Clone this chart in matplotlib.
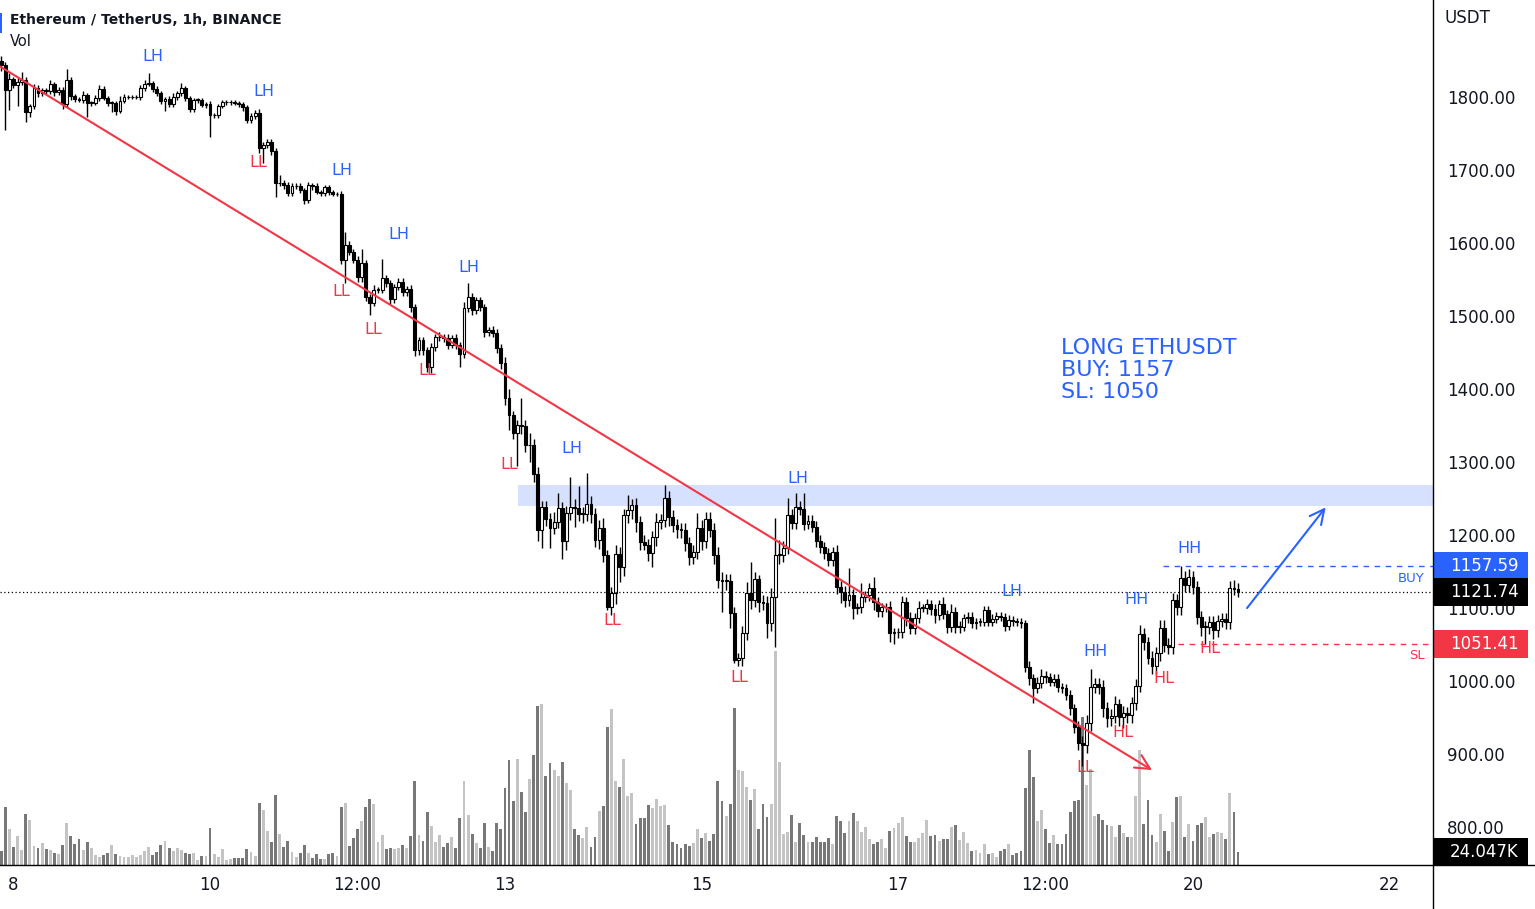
import numpy as np
import matplotlib
matplotlib.use('Agg')
import matplotlib.pyplot as plt
import matplotlib.transforms as mtransforms
from matplotlib.patches import Rectangle
from matplotlib.lines import Line2D

# ETH/USDT, 1h свечи, с 7 июня 21:00 по 20 июня 11:00 (UTC)
first_open = 1850
closes = [
    1844, 1810, 1825, 1816, 1821, 1823, 1780, 1788, 1812, 1805, 1810, 1808, 1818, 1807, 1810, 1790, 1823, 1801, 1797, 1796, 1803, 1792, 1792, 1799,
    1811, 1799, 1792, 1792, 1781, 1795, 1800, 1800, 1800, 1800, 1812, 1818, 1819, 1811, 1805, 1795, 1797, 1790, 1800, 1805, 1812, 1799, 1784, 1796,
    1796, 1789, 1790, 1775, 1775, 1788, 1793, 1793, 1793, 1792, 1790, 1786, 1768, 1774, 1778, 1730, 1734, 1738, 1726, 1682, 1682, 1679, 1668, 1678,
    1678, 1673, 1659, 1679, 1678, 1670, 1668, 1677, 1670, 1667, 1667, 1577, 1597, 1588, 1577, 1553, 1573, 1526, 1518, 1536, 1536, 1552, 1545, 1523,
    1540, 1547, 1533, 1537, 1512, 1453, 1467, 1453, 1430, 1457, 1471, 1471, 1470, 1460, 1470, 1460, 1448, 1511, 1526, 1508, 1522, 1512, 1478, 1481,
    1477, 1456, 1436, 1388, 1364, 1340, 1351, 1349, 1323, 1323, 1283, 1207, 1238, 1222, 1210, 1218, 1237, 1192, 1230, 1238, 1237, 1229, 1229, 1243,
    1229, 1193, 1210, 1173, 1101, 1121, 1174, 1156, 1227, 1234, 1241, 1218, 1190, 1186, 1175, 1197, 1218, 1220, 1251, 1225, 1214, 1208, 1207, 1189,
    1170, 1177, 1210, 1192, 1222, 1207, 1173, 1138, 1137, 1137, 1093, 1029, 1031, 1066, 1121, 1111, 1140, 1108, 1107, 1079, 1115, 1173, 1173, 1182,
    1227, 1216, 1238, 1236, 1215, 1219, 1211, 1192, 1184, 1175, 1166, 1177, 1129, 1122, 1111, 1118, 1100, 1101, 1115, 1118, 1127, 1108, 1096, 1101,
    1101, 1066, 1067, 1067, 1108, 1086, 1073, 1086, 1100, 1100, 1105, 1099, 1090, 1105, 1092, 1074, 1095, 1074, 1074, 1086, 1088, 1079, 1081, 1081,
    1097, 1081, 1085, 1089, 1088, 1075, 1084, 1082, 1081, 1079, 1019, 1004, 990, 997, 1007, 1005, 999, 1003, 992, 990, 981, 963, 937, 915,
    912, 942, 992, 996, 992, 963, 949, 952, 968, 951, 956, 953, 970, 993, 1064, 1053, 1031, 1020, 1038, 1073, 1049, 1047, 1111, 1101,
    1141, 1132, 1143, 1129, 1088, 1074, 1074, 1081, 1070, 1082, 1085, 1081, 1127, 1126, 1121.74,
]
# верхние и нижние тени (от тела свечи)
wick_up = [
    6, 4, 8, 3, 5, 11, 4, 3, 6, 4, 3, 3, 5, 3, 4, 4, 15, 5, 3, 3, 6, 3, 3, 4,
    5, 4, 3, 3, 3, 6, 4, 3, 3, 3, 5, 5, 14, 3, 4, 3, 3, 4, 5, 4, 7, 3, 3, 3,
    3, 3, 3, 4, 3, 3, 3, 3, 3, 3, 3, 3, 3, 4, 4, 5, 4, 5, 4, 4, 11, 4, 5, 4,
    4, 4, 3, 4, 3, 4, 3, 3, 3, 3, 3, 5, 18, 6, 4, 5, 19, 4, 4, 6, 4, 26, 4, 4,
    4, 5, 5, 4, 5, 5, 4, 5, 4, 6, 5, 7, 4, 5, 4, 5, 5, 8, 19, 6, 4, 4, 5, 4,
    5, 5, 6, 8, 12, 6, 7, 37, 8, 17, 8, 10, 9, 8, 8, 14, 21, 8, 10, 41, 12, 30, 10, 42,
    10, 8, 10, 13, 6, 8, 12, 10, 9, 21, 8, 10, 8, 10, 9, 8, 12, 9, 17, 10, 9, 8, 9, 10,
    8, 9, 20, 10, 10, 9, 10, 10, 12, 10, 10, 8, 8, 10, 15, 42, 10, 5, 10, 10, 12, 50, 20, 10,
    24, 9, 19, 8, 21, 8, 8, 8, 8, 7, 7, 7, 10, 8, 8, 37, 8, 6, 19, 6, 8, 15, 7, 6,
    6, 8, 6, 6, 8, 7, 8, 7, 10, 6, 8, 6, 7, 6, 10, 6, 10, 6, 8, 6, 6, 7, 6, 6,
    6, 6, 7, 6, 5, 5, 6, 5, 5, 5, 5, 8, 6, 8, 10, 7, 6, 6, 7, 6, 6, 7, 6, 8,
    10, 12, 25, 8, 8, 10, 8, 10, 12, 8, 10, 8, 8, 10, 13, 8, 8, 10, 8, 10, 10, 10, 10, 8,
    16, 10, 10, 8, 8, 8, 8, 8, 8, 8, 8, 8, 10, 12, 8,
]
wick_dn = [
    8, 55, 28, 4, 28, 5, 14, 7, 4, 5, 3, 4, 4, 5, 4, 6, 4, 5, 4, 3, 4, 19, 4, 3,
    4, 3, 4, 12, 5, 3, 3, 3, 3, 3, 4, 3, 3, 4, 4, 5, 14, 4, 3, 4, 3, 4, 5, 4,
    4, 3, 4, 30, 3, 3, 3, 4, 4, 3, 4, 5, 3, 4, 4, 7, 20, 4, 5, 19, 4, 5, 4, 4,
    4, 4, 6, 4, 5, 3, 4, 3, 4, 3, 3, 6, 32, 5, 4, 6, 6, 6, 17, 4, 4, 4, 5, 6,
    5, 4, 5, 5, 6, 8, 6, 6, 6, 8, 5, 5, 5, 5, 4, 5, 18, 6, 5, 6, 5, 5, 6, 5,
    6, 6, 8, 10, 20, 8, 45, 10, 9, 23, 10, 15, 25, 10, 28, 9, 8, 25, 12, 10, 26, 10, 12, 10,
    12, 10, 12, 10, 3, 10, 15, 20, 12, 10, 12, 14, 10, 6, 10, 19, 12, 10, 9, 12, 10, 12, 11, 11,
    11, 10, 10, 12, 10, 10, 12, 10, 42, 12, 20, 4, 9, 10, 10, 12, 10, 13, 10, 20, 10, 68, 12, 10,
    8, 8, 8, 9, 8, 7, 7, 8, 8, 8, 8, 8, 10, 15, 9, 8, 15, 8, 8, 7, 8, 10, 8, 8,
    6, 13, 15, 8, 8, 10, 8, 8, 7, 6, 8, 8, 10, 7, 7, 8, 7, 8, 8, 6, 7, 6, 8, 6,
    6, 6, 6, 6, 6, 6, 5, 6, 5, 6, 6, 10, 20, 6, 7, 7, 6, 6, 7, 6, 7, 9, 8, 10,
    28, 10, 10, 9, 10, 12, 12, 10, 10, 12, 15, 10, 10, 10, 8, 10, 8, 10, 12, 10, 9, 10, 10, 10,
    10, 10, 10, 10, 10, 12, 23, 10, 12, 10, 8, 10, 10, 8, 6,
]
# объём, тыс. ETH
volume_k = [
    26, 107, 67, 34, 54, 28, 95, 83, 36, 32, 41, 30, 28, 22, 20, 37, 78, 54, 39, 48, 28, 43, 32, 19,
    15, 19, 22, 37, 20, 17, 15, 14, 19, 14, 19, 26, 33, 19, 24, 37, 44, 31, 26, 31, 28, 22, 20, 22,
    9, 17, 17, 68, 20, 15, 30, 9, 11, 13, 13, 13, 30, 24, 17, 115, 102, 63, 43, 130, 57, 33, 44, 24,
    15, 22, 37, 22, 13, 20, 11, 11, 20, 22, 17, 107, 115, 35, 50, 67, 81, 107, 122, 113, 43, 56, 30, 31,
    30, 31, 37, 31, 54, 155, 56, 44, 98, 72, 43, 56, 33, 41, 52, 31, 87, 155, 93, 57, 41, 31, 78, 33,
    26, 78, 67, 142, 194, 118, 196, 135, 98, 159, 204, 294, 298, 165, 189, 176, 165, 191, 152, 139, 67, 56, 50, 70,
    33, 52, 100, 109, 255, 289, 155, 144, 196, 128, 133, 76, 87, 87, 111, 105, 122, 109, 111, 74, 43, 39, 31, 39,
    35, 41, 67, 50, 59, 44, 57, 155, 118, 91, 113, 290, 176, 174, 144, 120, 141, 67, 113, 89, 113, 396, 191, 57,
    61, 93, 43, 78, 56, 43, 43, 52, 43, 43, 50, 39, 91, 81, 59, 81, 96, 81, 61, 70, 48, 39, 43, 48,
    31, 63, 68, 78, 89, 54, 43, 43, 50, 59, 83, 54, 56, 44, 48, 48, 70, 74, 46, 61, 41, 26, 28, 22,
    39, 20, 22, 15, 26, 30, 39, 19, 22, 26, 142, 213, 163, 81, 102, 67, 41, 56, 39, 39, 57, 98, 118, 120,
    274, 148, 178, 91, 94, 83, 74, 72, 52, 74, 59, 52, 52, 128, 213, 76, 120, 56, 43, 94, 63, 26, 80, 126,
    128, 52, 76, 44, 74, 78, 89, 52, 57, 61, 59, 48, 133, 98, 24.047,
]

tick_pos = [3, 51, 87, 123, 171, 219, 255, 291, 339]
tick_txt = ['8', '10', '12:00', '13', '15', '17', '12:00', '20', '22']
price_ticks = [800, 900, 1000, 1100, 1200, 1300, 1400, 1500, 1600, 1700, 1800]

# метки структуры рынка: (текст, свеча, цена)
swings = [
    ('LH', 37.1, 1855), ('LH', 64.2, 1808), ('LL', 62.7, 1710), ('LH', 83.2, 1700),
    ('LH', 97.1, 1612), ('LL', 83.0, 1534), ('LL', 90.8, 1481), ('LH', 114.2, 1566),
    ('LL', 104.0, 1426), ('LL', 124.0, 1296), ('LH', 139.4, 1318), ('LL', 149.1, 1083),
    ('LH', 194.5, 1277), ('LL', 180.1, 1005), ('LH', 246.8, 1122), ('HH', 267.3, 1040),
    ('HH', 277.3, 1112), ('HH', 290.2, 1182), ('LL', 264.6, 881), ('HL', 273.9, 929),
    ('HL', 283.9, 1003), ('HL', 295.1, 1044),
]
buy_price = 1157.59
sl_price = 1051.41
last_price = 1121.74
zone = (1240, 1268)

BLUE = '#2962ff'
RED = '#f23645'
INK = '#131722'

W, H = 1535, 909
fig = plt.figure(figsize=(W / 100, H / 100), dpi=100)
pos = [0, 44 / H, 1433 / W, 865 / H]
axv = fig.add_axes(pos)
ax = fig.add_axes(pos)
ax.patch.set_visible(False)

c = np.array(closes, dtype=float)
o = np.array([first_open] + closes[:-1], dtype=float)
hi = np.maximum(o, c) + np.array(wick_up)
lo = np.minimum(o, c) - np.array(wick_dn)
x = np.arange(len(c))
up = c >= o

# объём
axv.bar(x, volume_k, width=0.7, color=np.where(up, '#c4c4c4', '#787878'), linewidth=0)
axv.set_ylim(0, 865 * 1.85)

# свечи
ax.vlines(x, lo, hi, color='black', lw=1, zorder=2)
body = np.maximum(np.abs(c - o), 0.8)
ax.bar(x, body, bottom=np.minimum(o, c), width=0.7, color=np.where(up, 'white', 'black'),
       edgecolor='black', linewidth=0.8, zorder=3)

xlim = (-0.29, 349.6)
ax.set_xlim(*xlim)
axv.set_xlim(*xlim)
ax.set_ylim(748, 1933)

# зона сопротивления
ax.axhspan(zone[0], zone[1], xmin=518 / 1433, xmax=1, color=BLUE, alpha=0.19, lw=0, zorder=1)

# линии BUY / SL / последняя цена
ax.hlines(buy_price, 283.6, xlim[1], colors=BLUE, lw=1, linestyles=(0, (4, 4)), zorder=4)
ax.hlines(sl_price, 287.3, xlim[1], colors=RED, lw=1, linestyles=(0, (4, 4)), zorder=4)
ax.axhline(last_price, color='black', lw=0.9, ls=(0, (1, 2)), zorder=4)
ax.text(347.6, 1141, 'BUY', color=BLUE, fontsize=9.5, ha='right', va='center')
ax.text(347.6, 1035.5, 'SL', color=RED, fontsize=9.5, ha='right', va='center')

# трендовая линия и стрелка
ax.annotate('', xy=(281, 878), xytext=(-0.3, 1842), annotation_clip=False,
            arrowprops=dict(arrowstyle='->', color=RED, lw=1.5, mutation_scale=26, shrinkA=0, shrinkB=0),
            zorder=5)
ax.annotate('', xy=(323.4, 1238), xytext=(304.2, 1100),
            arrowprops=dict(arrowstyle='->', color=BLUE, lw=1.5, mutation_scale=26, shrinkA=0, shrinkB=0),
            zorder=5)

for s, sx, sy in swings:
    col = BLUE if s in ('LH', 'HH') else RED
    ax.text(sx, sy, s, color=col, fontsize=11.5, ha='center', va='center', zorder=6)

ax.text(258.7, 1426, 'LONG ETHUSDT\nBUY: 1157\nSL: 1050', color=BLUE, fontsize=16,
        ha='left', va='center', linespacing=1.1, zorder=6)

# оси
for a in (ax, axv):
    for sp in a.spines.values():
        sp.set_visible(False)
axv.set_xticks([])
axv.set_yticks([])
ax.set_xticks(tick_pos, tick_txt)
ax.tick_params(axis='x', length=0, pad=8, labelsize=12, colors=INK)
ax.yaxis.tick_right()
ax.set_yticks(price_ticks, [f'{v:.2f}' for v in price_ticks])
ax.tick_params(axis='y', length=0, pad=10, labelsize=12, colors=INK)

# плашки цен на шкале
def price_tag(axis, value, text, color, per_px):
    tr = mtransforms.blended_transform_factory(axis.transAxes, axis.transData)
    h = 28 * per_px
    axis.add_patch(Rectangle((1.0, value - h / 2), 95 / 1433, h, transform=tr, fc=color,
                             ec='none', clip_on=False, zorder=7))
    axis.text(1450 / 1433, value, text, transform=tr, ha='left', va='center', color='white',
              fontsize=12, clip_on=False, zorder=8)

price_tag(ax, buy_price, f'{buy_price:.2f}', BLUE, 1.3699)
price_tag(ax, last_price, f'{last_price:.2f}', 'black', 1.3699)
price_tag(ax, sl_price, f'{sl_price:.2f}', RED, 1.3699)
price_tag(axv, volume_k[-1], f'{volume_k[-1]:.3f}K', 'black', 1.85)

fig.add_artist(Line2D([0, 1], [44 / H, 44 / H], color='black', lw=1))
fig.add_artist(Line2D([1433 / W, 1433 / W], [0, 1], color='black', lw=1))

fig.text(10 / W, 1 - 20 / H, 'Ethereum / TetherUS, 1h, BINANCE', fontsize=10, fontweight='bold',
         va='center', color=INK)
fig.text(10 / W, 1 - 41 / H, 'Vol', fontsize=10.5, va='center', color=INK)
fig.add_artist(Rectangle((0, 1 - 33 / H), 2 / W, 20 / H, transform=fig.transFigure, fc=BLUE, ec='none'))
fig.text(1445 / W, 1 - 18 / H, 'USDT', fontsize=12, va='center', color=INK)

fig.savefig('out.png', dpi=100)
